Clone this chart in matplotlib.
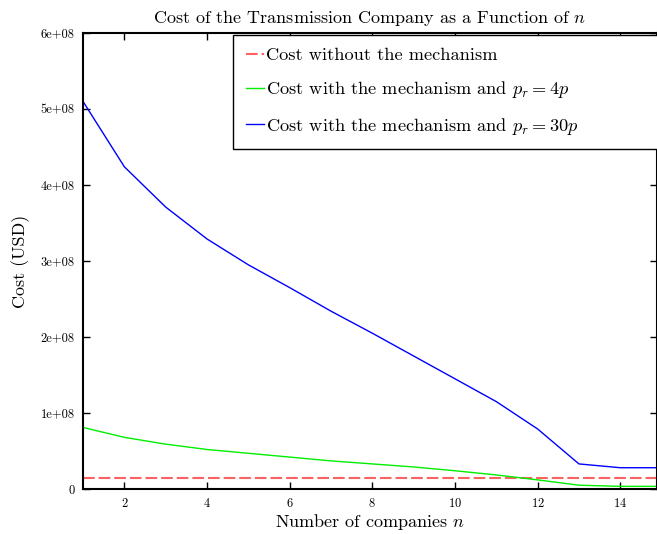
import numpy as np
import matplotlib
matplotlib.use('Agg')
import matplotlib.pyplot as plt
from matplotlib.ticker import FuncFormatter

plt.rcParams['font.family'] = 'serif'
plt.rcParams['font.serif'] = ['cmr10']
plt.rcParams['mathtext.fontset'] = 'cm'
plt.rcParams['axes.unicode_minus'] = False
plt.rcParams['axes.formatter.use_mathtext'] = True

n = np.arange(1, 16)
cost_none = [1.5e7] * 15
cost_4p = [0.81e8, 0.68e8, 0.59e8, 0.52e8, 0.47e8, 0.42e8, 0.37e8, 0.33e8,
           0.29e8, 0.24e8, 0.185e8, 0.12e8, 0.05e8, 0.035e8, 0.035e8]
cost_30p = [5.10e8, 4.24e8, 3.71e8, 3.29e8, 2.95e8, 2.65e8, 2.34e8, 2.05e8,
            1.75e8, 1.45e8, 1.15e8, 0.79e8, 0.33e8, 0.28e8, 0.28e8]

fig = plt.figure(figsize=(6.57, 5.34), dpi=100)
ax = fig.add_axes([83/657, 1-489/534, (657-83)/657, (489-33)/534])

ax.plot(n, cost_none, color='#ff6060', linestyle=(0, (5.6, 1.9)), linewidth=1.5,
        label='Cost without the mechanism')
ax.plot(n, cost_4p, color='#00ee00', linewidth=1.0,
        label='Cost with the mechanism and $p_r = 4p$')
ax.plot(n, cost_30p, color='#0000ff', linewidth=1.0,
        label='Cost with the mechanism and $p_r = 30p$')

ax.set_xlim(1, 1 + (657-83)/41.33)
ax.set_ylim(0, 6e8)
ax.set_xticks(np.arange(2, 15, 2))
ax.set_yticks(np.arange(0, 6.01e8, 1e8))
ax.yaxis.set_major_formatter(FuncFormatter(
    lambda v, p: '0' if v == 0 else '%de+08' % round(v / 1e8)))

ax.tick_params(direction='in', top=True, right=True, length=5, width=1,
               labelsize=9, pad=6)
for axis in ['top', 'bottom', 'left', 'right']:
    ax.spines[axis].set_linewidth(1.5)

ax.set_xlabel('Number of companies $n$', fontsize=13, labelpad=1)
ax.set_ylabel('Cost (USD)', fontsize=13, labelpad=8)
ax.set_title('Cost of the Transmission Company as a Function of $n$',
             fontsize=13, pad=7)

leg = ax.legend(loc='upper left', bbox_to_anchor=(0.261, 0.0, 0.8, 0.996),
                mode='expand', fontsize=13.2, handlelength=1.0, handletextpad=0.1,
                labelspacing=0.85, borderpad=0.7, borderaxespad=0.0,
                fancybox=False, framealpha=1.0)
leg.get_frame().set_edgecolor('black')
leg.get_frame().set_linewidth(1.0)
leg._legend_box.align = 'left'

plt.savefig('out.png', dpi=100)
